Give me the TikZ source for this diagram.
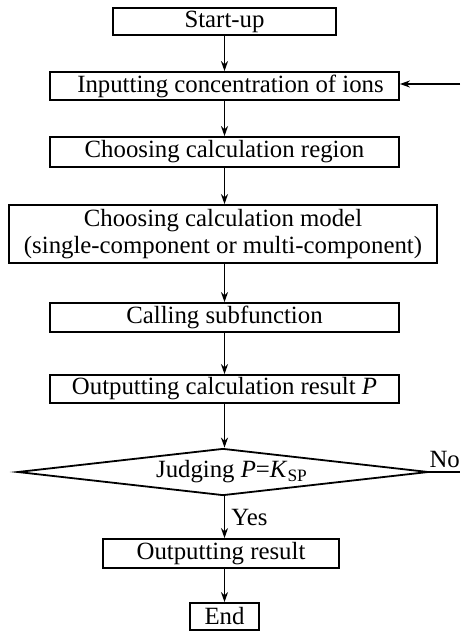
\documentclass[tikz,border=0pt]{standalone}
\usepackage{fontspec}
\setmainfont{Liberation Serif}
\usetikzlibrary{arrows,arrows.meta,shapes,positioning}
\tikzstyle{stepbox}=[rectangle,draw,line width=0.9pt,minimum height=14pt,inner sep=0pt,font=\fontsize{12.4}{13.3}\selectfont,align=center]
\tikzstyle{judgebox}=[diamond,draw,line width=0.9pt,aspect=8.7,inner sep=0pt,minimum width=205.5pt,minimum height=23.5pt,font=\fontsize{12.4}{13.3}\selectfont]
\tikzstyle{edge} = [draw,line width=0.9pt,-{Stealth[length=5pt,width=3.5pt]}]
\tikzstyle{plainedge} = [draw,line width=0.9pt]
\tikzstyle{weight} = [font=\fontsize{12.4}{13.3}\selectfont]

\begin{document}
\begin{tikzpicture}[x=0.5pt,y=-0.5pt]
\useasboundingbox (0,0) rectangle (460,631);

	\def\cx{224.5};

%boxes
    \foreach \pos/\name/\wid/\hgt/\label in {{(\cx,21.5)/start/111.5pt/13.5pt/Start-up},
        {(\cx,86)/input/174.5pt/14pt/{\hspace*{6pt}Inputting concentration of ions}},
        {(\cx,152)/region/174.5pt/15pt/Choosing calculation region},
        {(223,234)/model/214pt/29pt/{Choosing calculation model\\(single-component or multi-component)}},
        {(\cx,317.5)/call/174.5pt/14.5pt/Calling subfunction},
        {(\cx,389)/outp/174.5pt/14pt/{Outputting calculation result \textit{P}}},
        {(221,553.5)/outr/118pt/14.5pt/Outputting result},
        {(\cx,616.5)/finish/34.5pt/13.5pt/End}}
        \node[stepbox,minimum width=\wid,minimum height=\hgt] (\name) at \pos {\label};

%decision
    \node[judgebox] (judge) at (223,472) {\hspace*{9pt}Judging \textit{P}=\textit{K}\textsubscript{SP}};

%loose ends at the right edge
    \coordinate (noend) at (460,472);
    \coordinate (back) at (460,84);

    % Connect boxes with arrows
  	\foreach \source/ \dest in {start/input, input/region, call/outp}
		\path[edge] (\source) -- (\dest);
	\path[edge] (region.south) -- (region.south |- model.north);
	\path[edge] (model.south -| call.north) -- (call.north);
	\path[edge] (outp.south) -- (outp.south |- judge.north);
	\path[edge] (judge.south -| outp.south) -- node[weight,right,inner sep=3pt] {Yes} (outp.south |- outr.north);
	\path[edge] (outr.south -| outp.south) -- (finish.north);

	%loop back
	\path[plainedge] (judge.east) -- node[weight,above,inner sep=1.5pt] {No} (noend);
	\path[edge] (back) -- (back -| input.east);

\end{tikzpicture}
\end{document}
